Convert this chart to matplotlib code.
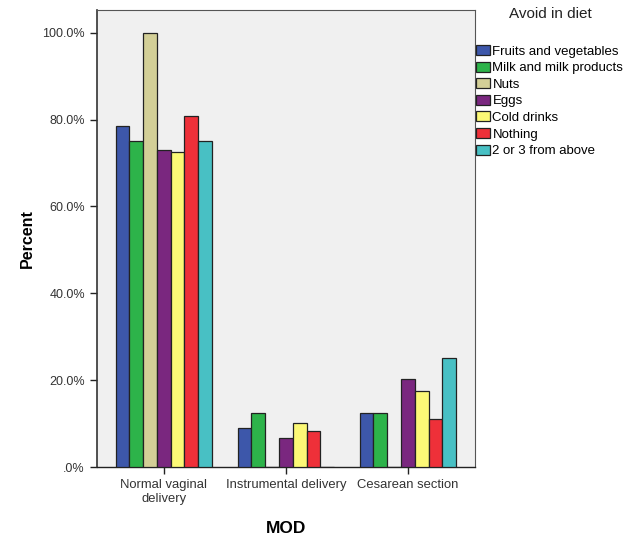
import matplotlib
matplotlib.use("Agg")
import matplotlib.pyplot as plt
import numpy as np

plt.rcParams["font.family"] = ["Liberation Sans", "DejaVu Sans"]

categories = ["Normal vaginal\ndelivery", "Instrumental delivery", "Cesarean section"]
series_names = ["Fruits and vegetables", "Milk and milk products", "Nuts", "Eggs",
                "Cold drinks", "Nothing", "2 or 3 from above"]
colors = ["#3D57AA", "#2DB34A", "#D3CF97", "#7A277F", "#FCF976", "#EE3039", "#48C0C4"]

# percent per category, one list per diet option
fruits = [78.6, 9.1, 12.5]
milk = [75.0, 12.5, 12.5]
nuts = [100.0, 0.0, 0.0]
eggs = [72.9, 6.8, 20.3]
cold_drinks = [72.5, 10.1, 17.5]
nothing = [80.8, 8.2, 11.1]
two_or_three = [75.0, 0.0, 25.0]

series = [fruits, milk, nuts, eggs, cold_drinks, nothing, two_or_three]

fig = plt.figure(figsize=(6.3, 5.35), dpi=100)
ax = fig.add_axes([0.1535, 0.127, 0.6005, 0.854])
ax.set_facecolor("#F0F0F0")

x = np.arange(len(categories))
n = len(series)
width = 0.79 / n
handles = []
for i, (vals, name, col) in enumerate(zip(series, series_names, colors)):
    pos = x - 0.395 + width * (i + 0.5)
    b = ax.bar(pos, vals, width, color=col, edgecolor="#222222", linewidth=0.9,
               label=name, zorder=3)
    handles.append(b)

ax.set_xlim(-0.55, 2.55)
ax.set_ylim(0, 105.2)
ax.set_yticks([0, 20, 40, 60, 80, 100])
ax.set_yticklabels([".0%", "20.0%", "40.0%", "60.0%", "80.0%", "100.0%"])
ax.set_xticks(x)
ax.set_xticklabels(categories)
ax.tick_params(axis="y", labelsize=9, colors="#222222", length=5, width=1)
ax.tick_params(axis="x", labelsize=9.4, colors="#222222", length=5, width=1)
for lab in ax.get_xticklabels() + ax.get_yticklabels():
    lab.set_color("#333333")

ax.spines["left"].set_color("#333333")
ax.spines["left"].set_linewidth(1.2)
ax.spines["bottom"].set_color("#222222")
ax.spines["bottom"].set_linewidth(1.0)
ax.spines["top"].set_color("#555555")
ax.spines["top"].set_linewidth(0.8)
ax.spines["right"].set_color("#555555")
ax.spines["right"].set_linewidth(0.8)

ax.set_ylabel("Percent", fontsize=11.5, fontweight="bold", labelpad=5)
ax.set_xlabel("MOD", fontsize=12.5, fontweight="bold", labelpad=12)

fig.text(550 / 630, 1 - 14 / 535, "Avoid in diet", ha="center", va="center",
         fontsize=11, color="#222222")
fig.legend(handles=handles, labels=series_names, loc="upper left",
           bbox_to_anchor=(476 / 630, 1 - 45 / 535), frameon=False,
           fontsize=9.5, handlelength=1.05, handleheight=0.8, handletextpad=0.2,
           labelspacing=0.3, borderpad=0, borderaxespad=0)

fig.savefig("out.png", dpi=100)
